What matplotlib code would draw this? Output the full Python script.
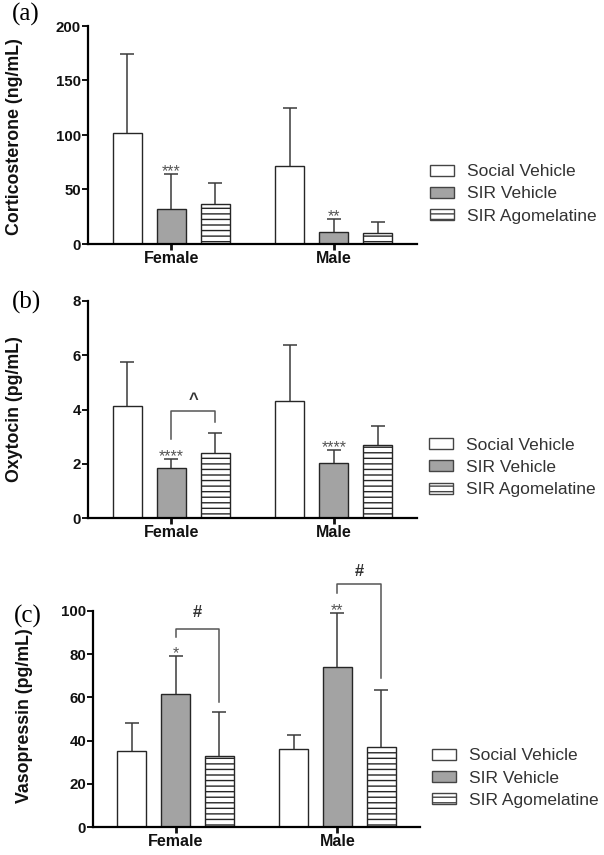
import numpy as np
import matplotlib.pyplot as plt
from matplotlib.patches import Patch

plt.rcParams['font.family'] = ['Liberation Sans', 'DejaVu Sans']
plt.rcParams['hatch.linewidth'] = 1.0

sexes = ['Female', 'Male']
treatments = ['Social Vehicle', 'SIR Vehicle', 'SIR Agomelatine']

# mean and upper error (mean + SD) per treatment, [Female, Male]
cort_mean = [[102, 72], [32, 11], [37, 10]]
cort_top = [[174, 125], [64, 22.5], [56, 20]]
oxy_mean = [[4.14, 4.31], [1.84, 2.02], [2.41, 2.71]]
oxy_top = [[5.76, 6.37], [2.18, 2.51], [3.15, 3.39]]
avp_mean = [[35.4, 36.0], [61.5, 74.2], [32.8, 37.1]]
avp_top = [[48.3, 42.6], [79.2, 98.8], [53.1, 63.4]]

cort_stars = ['***', '**']
oxy_stars = ['****', '****']
avp_stars = ['*', '**']

fill = ['white', '#a3a3a3', 'white']
hatch = [None, None, '---']
edge = '#262626'

centers = np.array([0.0, 3.7])
width = 0.66

fig = plt.figure(figsize=(6.04, 8.55), dpi=100)


def panel(rect, mean, top, stars, ylim, yticks, ylabel, lab_x, lab_y):
    ax = fig.add_axes(rect)
    for i in range(3):
        x = centers + (i - 1)
        m = np.array(mean[i])
        err = np.array(top[i]) - m
        ax.bar(x, m, width, color=fill[i], edgecolor=edge, linewidth=1.0,
               hatch=hatch[i], zorder=2)
        eb = ax.errorbar(x, m, yerr=[np.zeros(2), err], fmt='none',
                         ecolor='#3a3a3a', elinewidth=1.1, capsize=5,
                         capthick=1.1, zorder=3)
        # only the upper cap is shown
        eb[1][0].set_visible(False)
    for j in range(2):
        ax.annotate(stars[j], (centers[j], top[1][j]), xytext=(0, -1.5),
                    textcoords='offset points', ha='center', va='baseline',
                    fontsize=11.5, color='#555555')
    ax.set_xlim(-1.89, 5.59)
    ax.set_ylim(*ylim)
    ax.set_yticks(yticks)
    ax.set_xticks(centers)
    ax.set_xticklabels(sexes, fontsize=11.5, fontweight='bold')
    for t in ax.get_yticklabels():
        t.set_fontsize(10.8)
        t.set_fontweight('bold')
    ax.set_ylabel(ylabel, fontsize=12.8, fontweight='bold', color='#111111')
    ax.yaxis.set_label_coords(lab_x, lab_y)
    ax.spines['top'].set_visible(False)
    ax.spines['right'].set_visible(False)
    ax.spines['left'].set_linewidth(1.6)
    ax.spines['bottom'].set_linewidth(1.6)
    ax.tick_params(axis='y', length=4, width=1.4, pad=1, colors='#111111')
    ax.tick_params(axis='x', length=4, width=2, pad=1, colors='#111111')
    return ax


def bracket(ax, x1, x2, y1, yt, y2, label, dy):
    ax.plot([x1, x1, x2, x2], [y1, yt, yt, y2], color='#555555', lw=1.1,
            clip_on=False, zorder=4)
    ax.annotate(label, ((x1 + x2) / 2, yt), xytext=(0, dy),
                textcoords='offset points', ha='center', va='center',
                fontsize=12, fontweight='bold', color='#333333',
                annotation_clip=False)


def legend(x, y):
    handles = [Patch(facecolor=fill[i], edgecolor='#444444', hatch=hatch[i],
                     linewidth=1.0) for i in range(3)]
    fig.legend(handles, treatments, loc='center left', bbox_to_anchor=(x, y),
               frameon=False, fontsize=12.5, borderpad=0, borderaxespad=0,
               handlelength=1.4, handleheight=0.6, handletextpad=0.75,
               labelspacing=0.42, labelcolor='#333333')


ax_a = panel([88 / 604, 1 - 244 / 855, 329 / 604, 218 / 855], cort_mean,
             cort_top, cort_stars, (0, 200), [0, 50, 100, 150, 200],
             'Corticosterone (ng/mL)', -0.198, 0.493)
ax_b = panel([88 / 604, 1 - 518.3 / 855, 329 / 604, 217.6 / 855], oxy_mean,
             oxy_top, oxy_stars, (0, 8), [0, 2, 4, 6, 8],
             'Oxytocin (pg/mL)', -0.198, 0.5)
ax_c = panel([93 / 604, 1 - 827.3 / 855, 327 / 604, 216.6 / 855], avp_mean,
             avp_top, avp_stars, (0, 100), [0, 20, 40, 60, 80, 100],
             'Vasopressin (pg/mL)', -0.183, 0.514)

bracket(ax_b, centers[0], centers[0] + 1, 2.92, 3.96, 3.55, '^', 8)
bracket(ax_c, centers[0], centers[0] + 1, 87.7, 91.5, 58, '#', 12)
bracket(ax_c, centers[1], centers[1] + 1, 108, 112.3, 69, '#', 9)

legend(430 / 604, 1 - 194 / 855)
legend(429 / 604, 1 - 467.5 / 855)
legend(432 / 604, 1 - 778 / 855)

for lab, yy, xx in [('(a)', 14, 12), ('(b)', 302, 12), ('(c)', 616, 14)]:
    fig.text(xx / 604, 1 - yy / 855, lab, family='Liberation Serif',
             fontsize=18, va='center', ha='left')

fig.savefig('out.png', dpi=100)
